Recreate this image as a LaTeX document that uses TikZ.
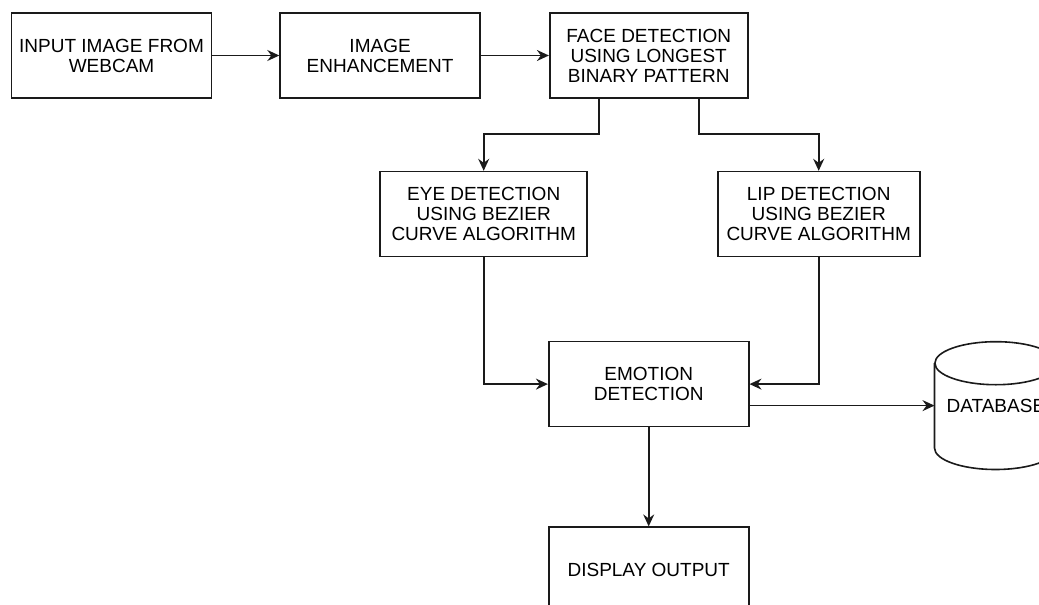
\documentclass[tikz,border=0pt]{standalone}
\usepackage{fontspec}
\setmainfont{Liberation Sans}
\usepackage{xcolor}
\definecolor{cLine}{HTML}{1A1A1A}
\usepackage{tikz}
\usetikzlibrary{positioning,arrows.meta}
\tikzset{
  node-box/.style={draw=cLine,line width=0.8pt,minimum height=42.5pt,
    minimum width=100pt,inner sep=1pt,align=center,
    font=\fontsize{9.5}{10}\selectfont},
  node-db/.style={minimum width=61pt,minimum height=63.5pt,inner sep=1pt,
    font=\fontsize{9.5}{10}\selectfont},
  db-line/.style={draw=cLine,line width=0.8pt},
  arrow/.style={-{Stealth[length=6pt,width=5.5pt,inset=2pt]},line width=0.8pt,draw=cLine},
}
\begin{document}
\begin{tikzpicture}[x=0.5pt,y=-0.5pt]
  \useasboundingbox (0,0) rectangle (1039,605);
  \node[node-box] (input) at (111.5,55.5) {INPUT IMAGE FROM\\WEBCAM};
  \node[node-box,right=33.5pt of input] (enhance) {IMAGE\\ENHANCEMENT};
  \node[node-box,minimum width=99pt,right=34pt of enhance] (face) {FACE DETECTION\\USING LONGEST\\BINARY PATTERN};
  \node[node-box,minimum width=103.5pt,below=36pt of face,xshift=-82.5pt] (eye) {EYE DETECTION\\USING BEZIER\\CURVE ALGORITHM};
  \node[node-box,minimum width=101pt,below=36pt of face,xshift=85pt] (lip) {LIP DETECTION\\USING BEZIER\\CURVE ALGORITHM};
  \node[node-box,below=121pt of face] (emotion) {EMOTION\\DETECTION};
  \node[node-box,below=49.5pt of emotion] (display) {DISPLAY OUTPUT};
  \node[node-db,right=92.5pt of emotion,yshift=-10.75pt] (db) {DATABASE};
  % cylinder outline round the database text
  \draw[db-line] ([yshift=-10.75pt]db.north) ellipse [x radius=30.5pt,y radius=10.75pt];
  \draw[db-line] ([yshift=-10.75pt]db.north west) -- ([yshift=10.75pt]db.south west)
    arc [start angle=180,end angle=360,x radius=30.5pt,y radius=10.75pt]
    -- ([yshift=-10.75pt]db.north east);
  \draw[arrow] (input) -- (enhance);
  \draw[arrow] (enhance) -- (face);
  \draw[arrow] ([xshift=-25pt]face.south) -- ++(0,-17.5pt) -| (eye.north);
  \draw[arrow] ([xshift=25pt]face.south) -- ++(0,-17.5pt) -| (lip.north);
  \draw[arrow] (eye.south) |- (emotion.west);
  \draw[arrow] (lip.south) |- (emotion.east);
  \draw[arrow] (emotion.east |- db.west) -- (db.west);
  \draw[arrow] (emotion) -- (display);
\end{tikzpicture}
\end{document}
